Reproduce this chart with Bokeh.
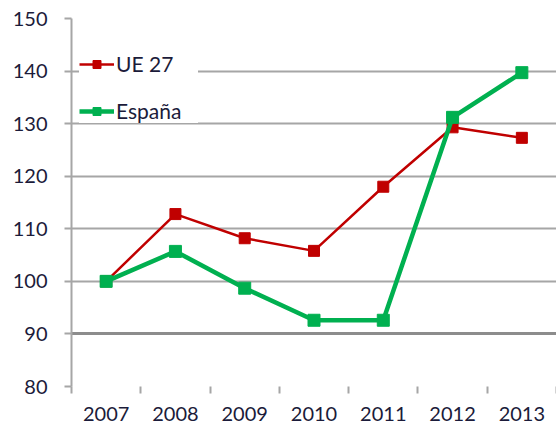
from bokeh.plotting import figure
from bokeh.models import FixedTicker, Range1d, Legend, LegendItem, Grid
from bokeh.embed import file_html
from bokeh.resources import INLINE

years = ["2007", "2008", "2009", "2010", "2011", "2012", "2013"]
ue27 = [100.0, 112.8, 108.2, 105.8, 118.0, 129.3, 127.3]
espana = [100.0, 105.7, 98.7, 92.6, 92.6, 131.2, 139.7]
y_ticks = [80, 90, 100, 110, 120, 130, 140, 150]
baseline = [90]

RED = "#C00000"
GREEN = "#00B050"
TEXT = "#1b1b3a"
GRID = "#a6a6a6"
FONT = "Lato"

xs = [i + 0.5 for i in range(len(years))]

p = figure(width=556, height=425, output_backend="svg", toolbar_location=None,
           x_range=Range1d(0, len(years)), y_range=Range1d(min(y_ticks), max(y_ticks)),
           min_border_left=71, min_border_right=0, min_border_top=18, min_border_bottom=39)
p.outline_line_color = None
p.background_fill_color = "white"
p.border_fill_color = "white"

# x axis
p.xaxis.ticker = FixedTicker(ticks=xs, minor_ticks=list(range(len(years) + 1)))
p.xaxis.major_label_overrides = {x: y for x, y in zip(xs, years)}
p.xaxis.major_tick_out = 0
p.xaxis.major_tick_in = 0
p.xaxis.minor_tick_out = 7
p.xaxis.minor_tick_in = 0
p.xaxis.minor_tick_line_color = GRID
p.xaxis.minor_tick_line_width = 2
p.xaxis.axis_line_color = None
p.xaxis.major_label_text_font = FONT
p.xaxis.major_label_text_font_size = "20px"
p.xaxis.major_label_text_color = TEXT
p.xaxis.major_label_standoff = 13

# y axis
p.yaxis.ticker = FixedTicker(ticks=y_ticks)
p.yaxis.major_tick_out = 7
p.yaxis.major_tick_in = 0
p.yaxis.minor_tick_out = 0
p.yaxis.minor_tick_in = 0
p.yaxis.major_tick_line_color = GRID
p.yaxis.major_tick_line_width = 2
p.yaxis.axis_line_color = GRID
p.yaxis.axis_line_width = 2
p.yaxis.major_label_text_font = FONT
p.yaxis.major_label_text_font_size = "20px"
p.yaxis.major_label_text_color = TEXT
p.yaxis.major_label_standoff = 17

p.xgrid.visible = False
p.ygrid.ticker = FixedTicker(ticks=y_ticks)
p.ygrid.grid_line_color = GRID
p.ygrid.grid_line_width = 2

base_grid = Grid(dimension=1, ticker=FixedTicker(ticks=baseline),
                 grid_line_color="#8c8c8c", grid_line_width=3)
p.add_layout(base_grid)

r1 = p.line(xs, ue27, line_color=RED, line_width=2.5)
m1 = p.scatter(xs, ue27, marker="square", size=11, fill_color=RED, line_color=RED)
r2 = p.line(xs, espana, line_color=GREEN, line_width=4.5)
m2 = p.scatter(xs, espana, marker="square", size=12, fill_color=GREEN, line_color=GREEN)

legend = Legend(items=[LegendItem(label="UE 27", renderers=[r1, m1]),
                       LegendItem(label="España", renderers=[r2, m2])],
                location=(8, 263))
legend.padding = 13
legend.margin = 0
legend.spacing = 22
legend.glyph_width = 35
legend.glyph_height = 20
legend.label_standoff = 2
legend.label_width = 82
legend.label_text_font = FONT
legend.label_text_font_size = "21px"
legend.label_text_color = TEXT
legend.border_line_color = None
legend.background_fill_color = "white"
legend.background_fill_alpha = 1.0
p.add_layout(legend, "center")

open("out.html", "w").write(file_html(p, INLINE))
